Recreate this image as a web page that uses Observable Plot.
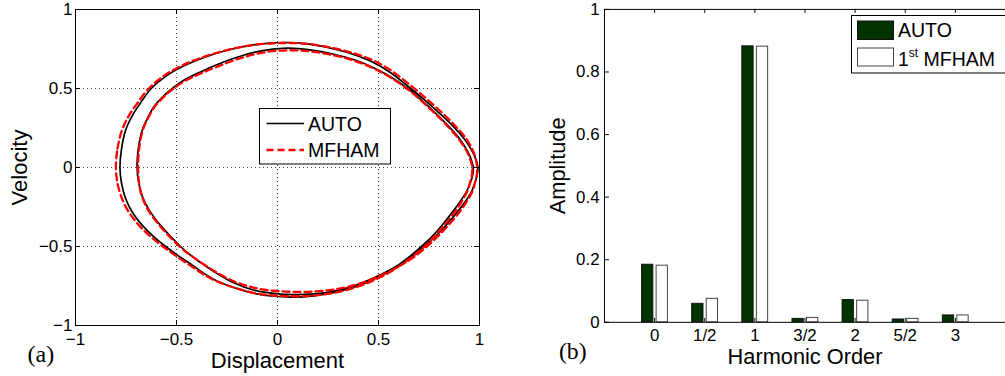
<!DOCTYPE html>
<html>
<head>
<meta charset="utf-8">
<script src="https://cdn.jsdelivr.net/npm/d3@7"></script>
<script src="https://cdn.jsdelivr.net/npm/@observablehq/plot@0.6"></script>
<style>
  html, body { margin: 0; padding: 0; background: white; }
  #wrap { position: relative; width: 1005px; height: 376px; overflow: hidden; background: white; font-family: "Liberation Sans", Arial, sans-serif; }
  #left { position: absolute; left: 0; top: 0; width: 500px; height: 376px; }
  #right { position: absolute; left: 500px; top: 0; width: 505px; height: 376px; overflow: hidden; }
  .legend { position: absolute; overflow: visible; }
  .legend text { font-family: "Liberation Sans", Arial, sans-serif; fill: black; }
</style>
</head>
<body>
<div id="wrap">
  <div id="left"></div>
  <div id="right"></div>
  <svg class="legend" style="left:259px; top:108px;" width="132" height="57">
    <rect x="0.5" y="0.5" width="131" height="55.5" fill="white" stroke="black" stroke-width="1"></rect>
    <line x1="7.5" x2="45" y1="15.5" y2="15.5" stroke="black" stroke-width="1.6"></line>
    <text x="49" y="23" font-size="19.5">AUTO</text>
    <line x1="7.5" x2="45" y1="42" y2="42" stroke="#ff0000" stroke-width="2.3" stroke-dasharray="7,4"></line>
    <text x="49" y="49" font-size="19.5">MFHAM</text>
  </svg>
  <svg class="legend" style="left:851px; top:15px;" width="156" height="59">
    <rect x="0.5" y="0.5" width="160" height="57.5" fill="white" stroke="black" stroke-width="1"></rect>
    <rect x="6.5" y="6" width="36" height="18.5" fill="#003300" stroke="#111" stroke-width="1"></rect>
    <text x="47" y="22" font-size="19.5">AUTO</text>
    <rect x="6.5" y="33" width="36" height="18" fill="white" stroke="#444" stroke-width="1"></rect>
    <text x="47" y="51" font-size="19.5">1<tspan font-size="12" dy="-9">st</tspan><tspan dy="9"> MFHAM</tspan></text>
  </svg>
</div>
<script>
// ---------- Panel (a): phase portrait ----------
const phaseTicks = [-1, -0.5, 0, 0.5, 1];
const phaseTickLabels = ["\u22121", "\u22120.5", "0", "0.5", "1"];
const phaseGrid = [-0.5, 0, 0.5];

// AUTO orbit [displacement, velocity], period-2, traversed clockwise (two loops)
const autoOrbit = [
  // outer loop, top half
  [-0.780, 0.000], [-0.772, 0.120], [-0.752, 0.236], [-0.718, 0.330], [-0.680, 0.405], [-0.625, 0.500],
  [-0.550, 0.580], [-0.460, 0.645], [-0.360, 0.698], [-0.240, 0.745], [-0.110, 0.778], [0.030, 0.791],
  [0.150, 0.782], [0.280, 0.750], [0.380, 0.714], [0.470, 0.668], [0.560, 0.600], [0.660, 0.500],
  [0.735, 0.420], [0.805, 0.340], [0.870, 0.260], [0.925, 0.180], [0.965, 0.100], [0.985, 0.040],
  [0.992, 0.000],
  // outer right side going down
  [0.988, -0.050], [0.976, -0.100], [0.960, -0.154], [0.917, -0.238], [0.864, -0.322], [0.802, -0.410],
  [0.730, -0.495], [0.652, -0.573],
  // inner loop, bottom half
  [0.565, -0.643], [0.470, -0.703], [0.380, -0.748], [0.280, -0.782], [0.180, -0.800], [0.080, -0.805],
  [-0.020, -0.797], [-0.120, -0.775], [-0.220, -0.728], [-0.307, -0.665], [-0.360, -0.620], [-0.420, -0.565],
  [-0.480, -0.500], [-0.580, -0.365], [-0.635, -0.270], [-0.670, -0.180], [-0.688, -0.090], [-0.695, 0.000],
  // inner loop, top half
  [-0.690, 0.110], [-0.670, 0.236], [-0.640, 0.320], [-0.612, 0.384], [-0.570, 0.445], [-0.521, 0.500],
  [-0.460, 0.555], [-0.381, 0.605], [-0.307, 0.647], [-0.200, 0.698], [-0.080, 0.738], [0.050, 0.755],
  [0.160, 0.745], [0.279, 0.717], [0.380, 0.682], [0.465, 0.638], [0.545, 0.585], [0.645, 0.500],
  [0.718, 0.420], [0.786, 0.340], [0.848, 0.260], [0.902, 0.180], [0.942, 0.100], [0.962, 0.040],
  [0.969, 0.000],
  // inner right side going down
  [0.966, -0.050], [0.954, -0.100], [0.935, -0.154], [0.892, -0.238], [0.842, -0.322], [0.785, -0.410],
  [0.720, -0.492], [0.650, -0.568],
  // outer loop, bottom half
  [0.567, -0.645], [0.475, -0.708], [0.385, -0.755], [0.280, -0.790], [0.180, -0.812], [0.080, -0.820],
  [-0.020, -0.815], [-0.120, -0.795], [-0.220, -0.758], [-0.307, -0.713], [-0.370, -0.665], [-0.422, -0.618],
  [-0.490, -0.560], [-0.554, -0.500], [-0.620, -0.430], [-0.670, -0.365], [-0.720, -0.280], [-0.752, -0.196],
  [-0.772, -0.100]
];

// MFHAM orbit
const mfhamOrbit = [
  [-0.800, 0.000], [-0.792, 0.120], [-0.770, 0.236], [-0.735, 0.330], [-0.695, 0.405], [-0.637, 0.500],
  [-0.560, 0.582], [-0.468, 0.648], [-0.365, 0.700], [-0.245, 0.745], [-0.115, 0.776], [0.030, 0.788],
  [0.160, 0.781], [0.290, 0.752], [0.390, 0.718], [0.480, 0.674], [0.565, 0.612], [0.668, 0.510],
  [0.742, 0.430], [0.812, 0.350], [0.875, 0.270], [0.930, 0.190], [0.968, 0.105], [0.984, 0.040],
  [0.988, 0.000],
  [0.986, -0.050], [0.977, -0.100], [0.964, -0.154], [0.922, -0.245], [0.870, -0.330], [0.810, -0.415],
  [0.740, -0.500], [0.660, -0.580],
  [0.570, -0.647], [0.475, -0.703], [0.380, -0.745], [0.280, -0.772], [0.180, -0.785], [0.080, -0.787],
  [-0.020, -0.780], [-0.120, -0.760], [-0.220, -0.718], [-0.307, -0.660], [-0.362, -0.615], [-0.425, -0.560],
  [-0.485, -0.500], [-0.585, -0.365], [-0.640, -0.270], [-0.672, -0.180], [-0.686, -0.090], [-0.690, 0.000],
  [-0.686, 0.110], [-0.667, 0.236], [-0.638, 0.320], [-0.608, 0.384], [-0.565, 0.445], [-0.515, 0.500],
  [-0.452, 0.552], [-0.375, 0.598], [-0.300, 0.637], [-0.195, 0.687], [-0.075, 0.727], [0.050, 0.742],
  [0.160, 0.735], [0.279, 0.710], [0.380, 0.676], [0.468, 0.632], [0.546, 0.580], [0.645, 0.495],
  [0.718, 0.415], [0.786, 0.335], [0.847, 0.255], [0.900, 0.175], [0.940, 0.095], [0.958, 0.035],
  [0.964, 0.000],
  [0.962, -0.050], [0.952, -0.100], [0.938, -0.154], [0.897, -0.245], [0.848, -0.330], [0.792, -0.415],
  [0.728, -0.500], [0.656, -0.575],
  [0.572, -0.650], [0.480, -0.712], [0.388, -0.758], [0.285, -0.792], [0.180, -0.810], [0.080, -0.815],
  [-0.020, -0.810], [-0.120, -0.793], [-0.220, -0.758], [-0.315, -0.712], [-0.380, -0.665], [-0.435, -0.618],
  [-0.502, -0.560], [-0.567, -0.500], [-0.635, -0.430], [-0.686, -0.365], [-0.737, -0.280], [-0.770, -0.196],
  [-0.792, -0.100]
];

// ---------- Panel (b): harmonic amplitudes ----------
const harmonicLabels = ["0", "1/2", "1", "3/2", "2", "5/2", "3"];
const autoAmp  = [0.184, 0.059, 0.882, 0.011, 0.071, 0.009, 0.022];
const mfhamAmp = [0.181, 0.075, 0.881, 0.014, 0.069, 0.011, 0.022];
const ampTicks = [0, 0.2, 0.4, 0.6, 0.8, 1];
const ampTickLabels = ["0", "0.2", "0.4", "0.6", "0.8", "1"];

// ---------- build ----------
const autoPts = autoOrbit.map(([x, y]) => ({x, y}));
const mfhamPts = mfhamOrbit.map(([x, y]) => ({x, y}));

const FONT = "Liberation Sans, Arial, Helvetica, sans-serif";
const SERIF = "Liberation Serif, Times New Roman, serif";
const TICK_FS = 17, TITLE_FS = 22;

const leftW = 500, H = 376;
const lM = {l: 75, r: 21, t: 9, b: 51};
const lPlotH = H - lM.t - lM.b;
const lPlotW = leftW - lM.l - lM.r;
const phaseFmt = d => phaseTickLabels[phaseTicks.indexOf(d)];

const left = Plot.plot({
  width: leftW, height: H,
  marginLeft: lM.l, marginRight: lM.r, marginTop: lM.t, marginBottom: lM.b,
  x: {domain: [-1, 1]},
  y: {domain: [-1, 1]},
  style: {fontFamily: FONT, color: "black", background: "white", overflow: "visible"},
  marks: [
    Plot.gridX(phaseGrid, {stroke: "#444", strokeOpacity: 1, strokeDasharray: "1,3", strokeWidth: 1}),
    Plot.gridY(phaseGrid, {stroke: "#444", strokeOpacity: 1, strokeDasharray: "1,3", strokeWidth: 1}),
    Plot.tickX(phaseTicks, {x: d => d, insetTop: lPlotH - 5, stroke: "black"}),
    Plot.tickX(phaseTicks, {x: d => d, insetBottom: lPlotH - 5, stroke: "black"}),
    Plot.tickY(phaseTicks, {y: d => d, insetRight: lPlotW - 5, stroke: "black"}),
    Plot.tickY(phaseTicks, {y: d => d, insetLeft: lPlotW - 5, stroke: "black"}),
    Plot.line(autoPts, {x: "x", y: "y", curve: "catmull-rom-closed", stroke: "black", strokeWidth: 1.7}),
    Plot.line(mfhamPts, {x: "x", y: "y", curve: "catmull-rom-closed", stroke: "#ff0000", strokeWidth: 2.3, strokeDasharray: "7,4"}),
    Plot.frame({stroke: "black", strokeWidth: 1}),
    Plot.axisX(phaseTicks, {tickSize: 0, tickPadding: 7, tickFormat: phaseFmt, fontSize: TICK_FS, label: null}),
    Plot.axisY(phaseTicks, {tickSize: 0, tickPadding: 3, tickFormat: phaseFmt, fontSize: TICK_FS, label: null}),
    Plot.text(["Displacement"], {frameAnchor: "bottom", lineAnchor: "middle", textAnchor: "middle", dy: 35, fontSize: TITLE_FS, fill: "black"}),
    Plot.text(["Velocity"], {frameAnchor: "left", lineAnchor: "middle", textAnchor: "middle", dx: -56, rotate: -90, fontSize: TITLE_FS, fill: "black"}),
    Plot.text(["(a)"], {frameAnchor: "bottom-left", lineAnchor: "middle", textAnchor: "start", dx: -48, dy: 29, fontSize: 24, fontFamily: SERIF, fill: "black"})
  ]
});
document.getElementById("left").appendChild(left);

const rightW = 510;
const rM = {l: 105, r: 0, t: 9, b: 51};
const rPlotH = H - rM.t - rM.b;
const rPlotW = rightW - rM.l - rM.r;
const catIdx = harmonicLabels.map((_, i) => i);
const autoBars = autoAmp.map((v, i) => ({i, v}));
const mfhamBars = mfhamAmp.map((v, i) => ({i, v}));
const catFmt = d => harmonicLabels[d];
const ampFmt = d => ampTickLabels[ampTicks.indexOf(d)];

const right = Plot.plot({
  width: rightW, height: H,
  marginLeft: rM.l, marginRight: rM.r, marginTop: rM.t, marginBottom: rM.b,
  x: {domain: [-1, 7]},
  y: {domain: [0, 1]},
  style: {fontFamily: FONT, color: "black", background: "white", overflow: "visible"},
  marks: [
    Plot.rectY(autoBars, {x1: d => d.i - 0.25, x2: d => d.i - 0.025, y1: 0, y2: "v", fill: "#003300", stroke: "#111", strokeWidth: 1}),
    Plot.rectY(mfhamBars, {x1: d => d.i + 0.04, x2: d => d.i + 0.265, y1: 0, y2: "v", fill: "white", stroke: "#444", strokeWidth: 1}),
    Plot.tickX(catIdx, {x: d => d, insetTop: rPlotH - 4, stroke: "black"}),
    Plot.tickX(catIdx, {x: d => d, insetBottom: rPlotH - 4, stroke: "black"}),
    Plot.tickY(ampTicks, {y: d => d, insetRight: rPlotW - 5, stroke: "black"}),
    Plot.frame({stroke: "black", strokeWidth: 1}),
    Plot.axisX(catIdx, {tickSize: 0, tickPadding: 7, tickFormat: catFmt, fontSize: TICK_FS, label: null}),
    Plot.axisY(ampTicks, {tickSize: 0, tickPadding: 5, tickFormat: ampFmt, fontSize: TICK_FS, label: null}),
    Plot.text(["Harmonic Order"], {frameAnchor: "bottom", lineAnchor: "middle", textAnchor: "middle", dy: 35, fontSize: TITLE_FS, fill: "black"}),
    Plot.text(["Amplitude"], {frameAnchor: "left", lineAnchor: "middle", textAnchor: "middle", dx: -47, rotate: -90, fontSize: TITLE_FS, fill: "black"}),
    Plot.text(["(b)"], {frameAnchor: "bottom-left", lineAnchor: "middle", textAnchor: "start", dx: -46, dy: 29, fontSize: 24, fontFamily: SERIF, fill: "black"})
  ]
});
document.getElementById("right").appendChild(right);
</script>
</body>
</html>
